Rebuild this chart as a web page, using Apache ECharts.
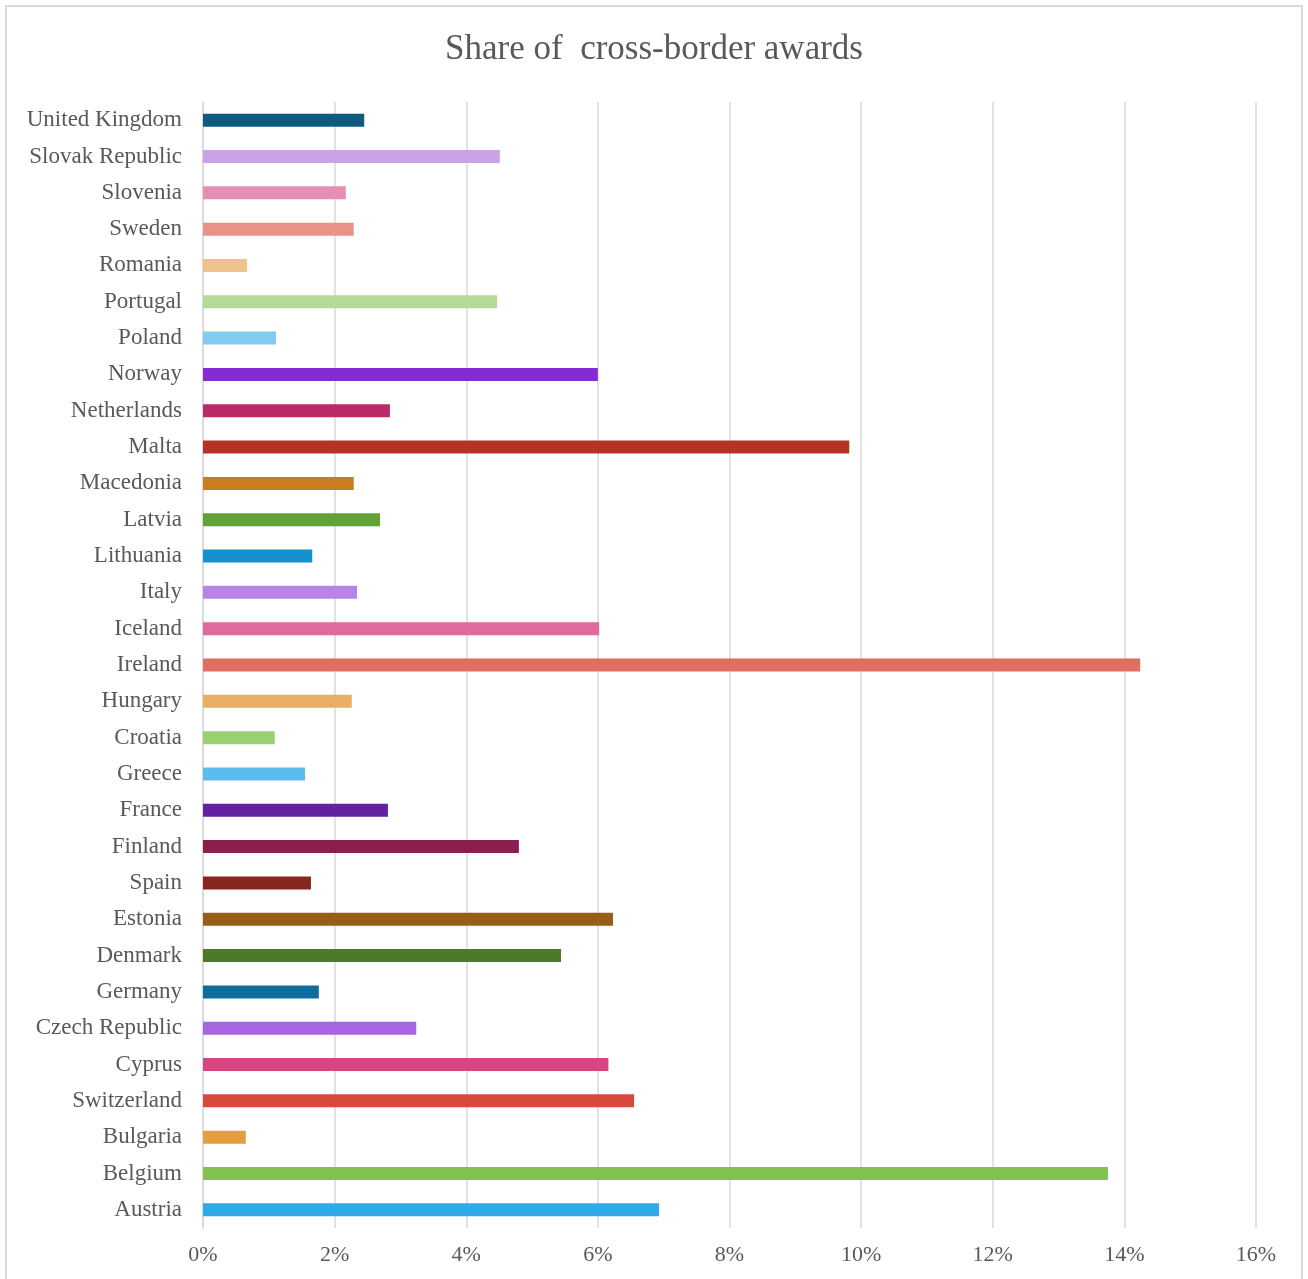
<!DOCTYPE html>
<html><head><meta charset="utf-8">
<script src="https://cdn.jsdelivr.net/npm/echarts@6/dist/echarts.min.js"></script>
<style>html,body{margin:0;padding:0;background:#fff;}#c{width:1308px;height:1279px;}</style>
</head><body><div id="c"></div>
<script>
// bottom-to-top order
const categories = ["Austria","Belgium","Bulgaria","Switzerland","Cyprus","Czech Republic","Germany","Denmark","Estonia","Spain","Finland","France","Greece","Croatia","Hungary","Ireland","Iceland","Italy","Lithuania","Latvia","Macedonia","Malta","Netherlands","Norway","Poland","Portugal","Romania","Sweden","Slovenia","Slovak Republic","United Kingdom"];
const shares = [6.93,13.75,0.65,6.55,6.16,3.24,1.76,5.44,6.23,1.64,4.80,2.81,1.55,1.09,2.26,14.24,6.02,2.34,1.66,2.69,2.29,9.82,2.84,6.00,1.11,4.47,0.67,2.29,2.17,4.51,2.45];
const barColors = ["#2FAAE8","#81C250","#E39E3E","#D74A3B","#D74683","#A566DF","#0F6C9E","#4C7A2A","#955F17","#86261C","#8A1F4F","#6420A2","#5ABBEC","#9ACF72","#E9AE66","#DF6E63","#DF6A9E","#B784E6","#1591D0","#63A237","#C87E1F","#B43325","#BC2A6A","#842CD4","#82CAF0","#B5DA97","#EEC48A","#E89388","#E68FB5","#C9A3E8","#0F5B7F"];
const xTicks = [0,2,4,6,8,10,12,14,16];

const chart = echarts.init(document.getElementById('c'), null, {renderer:'canvas'});
const font = '"Liberation Serif","DejaVu Serif",serif';
chart.setOption({
  animation:false,
  backgroundColor:'#fff',
  title:{text:'Share of  cross-border awards',left:'center',top:27,
    textStyle:{fontFamily:font,fontSize:35,fontWeight:'normal',color:'#595959'}},
  graphic:[{type:'rect',shape:{x:6,y:6,width:1296,height:1300},style:{fill:'none',stroke:'#d9d9d9',lineWidth:2},silent:true,z:-1}],
  grid:{left:203,right:52,top:102,bottom:51,containLabel:false},
  xAxis:{type:'value',min:xTicks[0],max:xTicks[xTicks.length-1],interval:2,
    axisLine:{show:false},axisTick:{show:false},
    splitLine:{lineStyle:{color:'#d9d9d9',width:1.5}},
    axisLabel:{formatter:v=>v+'%',margin:16,fontFamily:font,fontSize:22,color:'#595959'}},
  yAxis:{type:'category',data:categories,
    axisLine:{show:true,lineStyle:{color:'#d9d9d9',width:1.5}},axisTick:{show:false},
    axisLabel:{margin:21,fontFamily:font,fontSize:23,color:'#595959'}},
  series:[{type:'bar',barWidth:13,
    data:shares.map((v,i)=>({value:v,itemStyle:{color:barColors[i]}}))}]
});
</script></body></html>
